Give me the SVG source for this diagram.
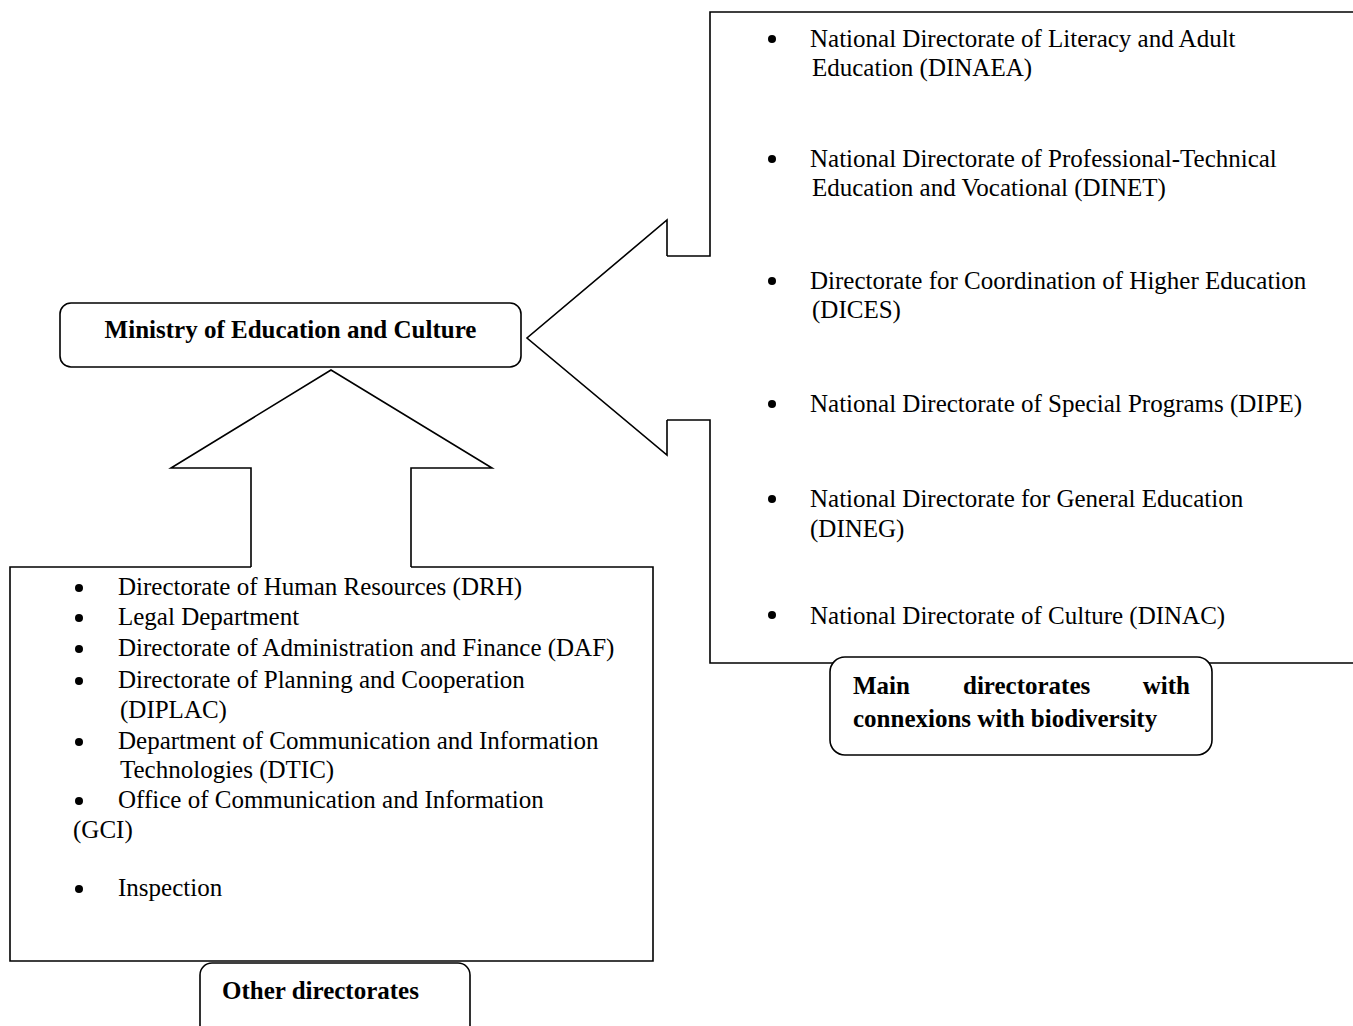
<svg xmlns="http://www.w3.org/2000/svg" width="1353" height="1026" viewBox="0 0 1353 1026">
  <style>
    .line { fill: none; stroke: #000; stroke-width: 1.6; stroke-linejoin: miter; }
    .box { fill: #fff; stroke: #000; stroke-width: 1.6; }
    .txt { font-family: "Liberation Serif", "Times New Roman", serif; font-size: 25px; fill: #000; }
    .bold { font-weight: bold; }
    .dot { fill: #000; }
  </style>
  <rect x="0" y="0" width="1353" height="1026" fill="#fff"/>

  <!-- Main directorates panel (open on the right) -->
  <g id="main-directorates">
    <path class="line" d="M667,256 H710 V12 H1360"/>
    <path class="line" d="M667,420 H710 V663 H1360"/>
    <g class="txt">
      <circle class="dot" cx="772" cy="39" r="4"/>
      <text x="810" y="47">National Directorate of Literacy and Adult</text>
      <text x="812" y="76">Education (DINAEA)</text>
      <circle class="dot" cx="772" cy="159" r="4"/>
      <text x="810" y="167">National Directorate of Professional-Technical</text>
      <text x="812" y="196">Education and Vocational (DINET)</text>
      <circle class="dot" cx="772" cy="281" r="4"/>
      <text x="810" y="289">Directorate for Coordination of Higher Education</text>
      <text x="812" y="318">(DICES)</text>
      <circle class="dot" cx="772" cy="404" r="4"/>
      <text x="810" y="412">National Directorate of Special Programs (DIPE)</text>
      <circle class="dot" cx="772" cy="499" r="4"/>
      <text x="810" y="507">National Directorate for General Education</text>
      <text x="810" y="537">(DINEG)</text>
      <circle class="dot" cx="772" cy="615" r="4"/>
      <text x="810" y="624">National Directorate of Culture (DINAC)</text>
    </g>
  </g>

  <!-- Other directorates panel -->
  <g id="other-directorates">
    <path class="line" d="M251,567 H10 V961 H653 V567 H411"/>
    <g class="txt">
      <circle class="dot" cx="79" cy="588" r="4"/>
      <text x="118" y="595">Directorate of Human Resources (DRH)</text>
      <circle class="dot" cx="79" cy="618" r="4"/>
      <text x="118" y="625">Legal Department</text>
      <circle class="dot" cx="79" cy="649" r="4"/>
      <text x="118" y="656">Directorate of Administration and Finance (DAF)</text>
      <circle class="dot" cx="79" cy="681" r="4"/>
      <text x="118" y="688">Directorate of Planning and Cooperation</text>
      <text x="120" y="718">(DIPLAC)</text>
      <circle class="dot" cx="79" cy="742" r="4"/>
      <text x="118" y="749">Department of Communication and Information</text>
      <text x="120" y="778">Technologies (DTIC)</text>
      <circle class="dot" cx="79" cy="801" r="4"/>
      <text x="118" y="808">Office of Communication and Information</text>
      <text x="73" y="838">(GCI)</text>
      <circle class="dot" cx="79" cy="889" r="4"/>
      <text x="118" y="896">Inspection</text>
    </g>
  </g>

  <!-- Block arrows pointing to the ministry -->
  <g id="connectors">
    <path class="line" d="M251,567 V468 H171 L331,370 L492,468 H411 V567"/>
    <path class="line" d="M667,256 V220 L527,338 L667,455 V420"/>
  </g>

  <g id="ministry">
    <rect class="box" x="60" y="303" width="461" height="64" rx="11"/>
    <text class="txt bold" x="290.5" y="338" text-anchor="middle">Ministry of Education and Culture</text>
  </g>

  <g id="main-label">
    <rect class="box" x="830" y="657" width="382" height="98" rx="15"/>
    <text class="txt bold" x="853" y="694">Main</text>
    <text class="txt bold" x="963" y="694">directorates</text>
    <text class="txt bold" x="1190" y="694" text-anchor="end">with</text>
    <text class="txt bold" x="853" y="727">connexions with biodiversity</text>
  </g>

  <g id="other-label">
    <rect class="box" x="200" y="963" width="270" height="90" rx="12"/>
    <text class="txt bold" x="222" y="999">Other directorates</text>
  </g>
</svg>
